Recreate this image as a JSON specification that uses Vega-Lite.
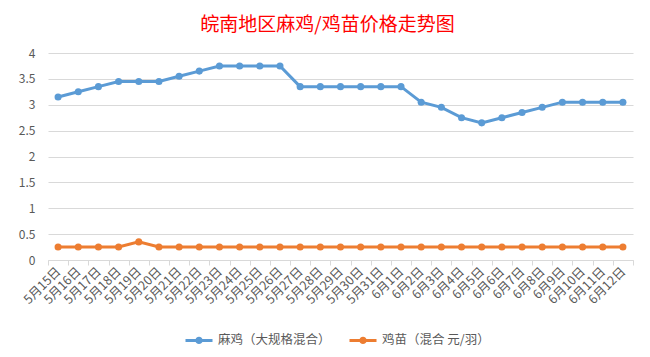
{
  "$schema": "https://vega.github.io/schema/vega-lite/v6.json",
  "autosize": {"type": "none"},
  "width": 585,
  "height": 207,
  "padding": {"left": 48, "top": 53, "right": 17, "bottom": 97},
  "background": "white",
  "config": {
    "font": "Noto Sans CJK SC",
    "view": {"stroke": null}
  },
  "title": {
    "text": "皖南地区麻鸡/鸡苗价格走势图",
    "color": "#ff0000",
    "fontSize": 19,
    "fontWeight": "normal",
    "font": "Noto Sans CJK SC",
    "anchor": "middle",
    "frame": "group",
    "baseline": "middle",
    "offset": 3,
    "dx": -13
  },
  "data": {
    "values": [
      {"d": "5月15日", "s": "麻鸡（大规格混合）", "v": 3.15},
      {"d": "5月16日", "s": "麻鸡（大规格混合）", "v": 3.25},
      {"d": "5月17日", "s": "麻鸡（大规格混合）", "v": 3.35},
      {"d": "5月18日", "s": "麻鸡（大规格混合）", "v": 3.45},
      {"d": "5月19日", "s": "麻鸡（大规格混合）", "v": 3.45},
      {"d": "5月20日", "s": "麻鸡（大规格混合）", "v": 3.45},
      {"d": "5月21日", "s": "麻鸡（大规格混合）", "v": 3.55},
      {"d": "5月22日", "s": "麻鸡（大规格混合）", "v": 3.65},
      {"d": "5月23日", "s": "麻鸡（大规格混合）", "v": 3.75},
      {"d": "5月24日", "s": "麻鸡（大规格混合）", "v": 3.75},
      {"d": "5月25日", "s": "麻鸡（大规格混合）", "v": 3.75},
      {"d": "5月26日", "s": "麻鸡（大规格混合）", "v": 3.75},
      {"d": "5月27日", "s": "麻鸡（大规格混合）", "v": 3.35},
      {"d": "5月28日", "s": "麻鸡（大规格混合）", "v": 3.35},
      {"d": "5月29日", "s": "麻鸡（大规格混合）", "v": 3.35},
      {"d": "5月30日", "s": "麻鸡（大规格混合）", "v": 3.35},
      {"d": "5月31日", "s": "麻鸡（大规格混合）", "v": 3.35},
      {"d": "6月1日", "s": "麻鸡（大规格混合）", "v": 3.35},
      {"d": "6月2日", "s": "麻鸡（大规格混合）", "v": 3.05},
      {"d": "6月3日", "s": "麻鸡（大规格混合）", "v": 2.95},
      {"d": "6月4日", "s": "麻鸡（大规格混合）", "v": 2.75},
      {"d": "6月5日", "s": "麻鸡（大规格混合）", "v": 2.65},
      {"d": "6月6日", "s": "麻鸡（大规格混合）", "v": 2.75},
      {"d": "6月7日", "s": "麻鸡（大规格混合）", "v": 2.85},
      {"d": "6月8日", "s": "麻鸡（大规格混合）", "v": 2.95},
      {"d": "6月9日", "s": "麻鸡（大规格混合）", "v": 3.05},
      {"d": "6月10日", "s": "麻鸡（大规格混合）", "v": 3.05},
      {"d": "6月11日", "s": "麻鸡（大规格混合）", "v": 3.05},
      {"d": "6月12日", "s": "麻鸡（大规格混合）", "v": 3.05},
      {"d": "5月15日", "s": "鸡苗（混合 元/羽）", "v": 0.25},
      {"d": "5月16日", "s": "鸡苗（混合 元/羽）", "v": 0.25},
      {"d": "5月17日", "s": "鸡苗（混合 元/羽）", "v": 0.25},
      {"d": "5月18日", "s": "鸡苗（混合 元/羽）", "v": 0.25},
      {"d": "5月19日", "s": "鸡苗（混合 元/羽）", "v": 0.35},
      {"d": "5月20日", "s": "鸡苗（混合 元/羽）", "v": 0.25},
      {"d": "5月21日", "s": "鸡苗（混合 元/羽）", "v": 0.25},
      {"d": "5月22日", "s": "鸡苗（混合 元/羽）", "v": 0.25},
      {"d": "5月23日", "s": "鸡苗（混合 元/羽）", "v": 0.25},
      {"d": "5月24日", "s": "鸡苗（混合 元/羽）", "v": 0.25},
      {"d": "5月25日", "s": "鸡苗（混合 元/羽）", "v": 0.25},
      {"d": "5月26日", "s": "鸡苗（混合 元/羽）", "v": 0.25},
      {"d": "5月27日", "s": "鸡苗（混合 元/羽）", "v": 0.25},
      {"d": "5月28日", "s": "鸡苗（混合 元/羽）", "v": 0.25},
      {"d": "5月29日", "s": "鸡苗（混合 元/羽）", "v": 0.25},
      {"d": "5月30日", "s": "鸡苗（混合 元/羽）", "v": 0.25},
      {"d": "5月31日", "s": "鸡苗（混合 元/羽）", "v": 0.25},
      {"d": "6月1日", "s": "鸡苗（混合 元/羽）", "v": 0.25},
      {"d": "6月2日", "s": "鸡苗（混合 元/羽）", "v": 0.25},
      {"d": "6月3日", "s": "鸡苗（混合 元/羽）", "v": 0.25},
      {"d": "6月4日", "s": "鸡苗（混合 元/羽）", "v": 0.25},
      {"d": "6月5日", "s": "鸡苗（混合 元/羽）", "v": 0.25},
      {"d": "6月6日", "s": "鸡苗（混合 元/羽）", "v": 0.25},
      {"d": "6月7日", "s": "鸡苗（混合 元/羽）", "v": 0.25},
      {"d": "6月8日", "s": "鸡苗（混合 元/羽）", "v": 0.25},
      {"d": "6月9日", "s": "鸡苗（混合 元/羽）", "v": 0.25},
      {"d": "6月10日", "s": "鸡苗（混合 元/羽）", "v": 0.25},
      {"d": "6月11日", "s": "鸡苗（混合 元/羽）", "v": 0.25},
      {"d": "6月12日", "s": "鸡苗（混合 元/羽）", "v": 0.25}
    ]
  },
  "mark": {
    "type": "line",
    "strokeWidth": 3,
    "point": {"filled": true, "size": 50}
  },
  "encoding": {
    "x": {
      "field": "d",
      "type": "nominal",
      "sort": null,
      "scale": {"type": "band", "paddingInner": 0, "paddingOuter": 0},
      "axis": {
        "title": null,
        "labelAngle": -45,
        "labelAlign": "right",
        "labelBaseline": "middle",
        "labelFontSize": 12.5,
        "labelColor": "#595959",
        "labelOverlap": false,
        "labelPadding": 4,
        "tickBand": "extent",
        "tickSize": 5,
        "tickColor": "#d9d9d9",
        "domainColor": "#d9d9d9",
        "grid": false
      }
    },
    "y": {
      "field": "v",
      "type": "quantitative",
      "scale": {"domain": [0, 4]},
      "axis": {
        "title": null,
        "values": [0, 0.5, 1, 1.5, 2, 2.5, 3, 3.5, 4],
        "format": "~g",
        "domain": false,
        "ticks": false,
        "labelPadding": 13,
        "labelFontSize": 12,
        "labelColor": "#595959",
        "gridColor": "#d9d9d9"
      }
    },
    "color": {
      "field": "s",
      "type": "nominal",
      "sort": null,
      "scale": {"domain": ["麻鸡（大规格混合）", "鸡苗（混合 元/羽）"], "range": ["#5b9bd5", "#ed7d31"]},
      "legend": {
        "title": null,
        "orient": "none",
        "direction": "horizontal",
        "legendX": 136,
        "legendY": 272,
        "labelFontSize": 12.5,
        "labelColor": "#595959",
        "columnPadding": 12,
        "symbolType": "M-1,0L1,0M-0.16,0a0.16,0.16 0 1,0 0.32,0a0.16,0.16 0 1,0 -0.32,0",
        "symbolSize": 729,
        "symbolStrokeWidth": 3,
        "encode": {
          "symbols": {
            "update": {
              "fill": {"scale": "color", "field": "value"},
              "stroke": {"scale": "color", "field": "value"}
            }
          }
        }
      }
    }
  }
}
